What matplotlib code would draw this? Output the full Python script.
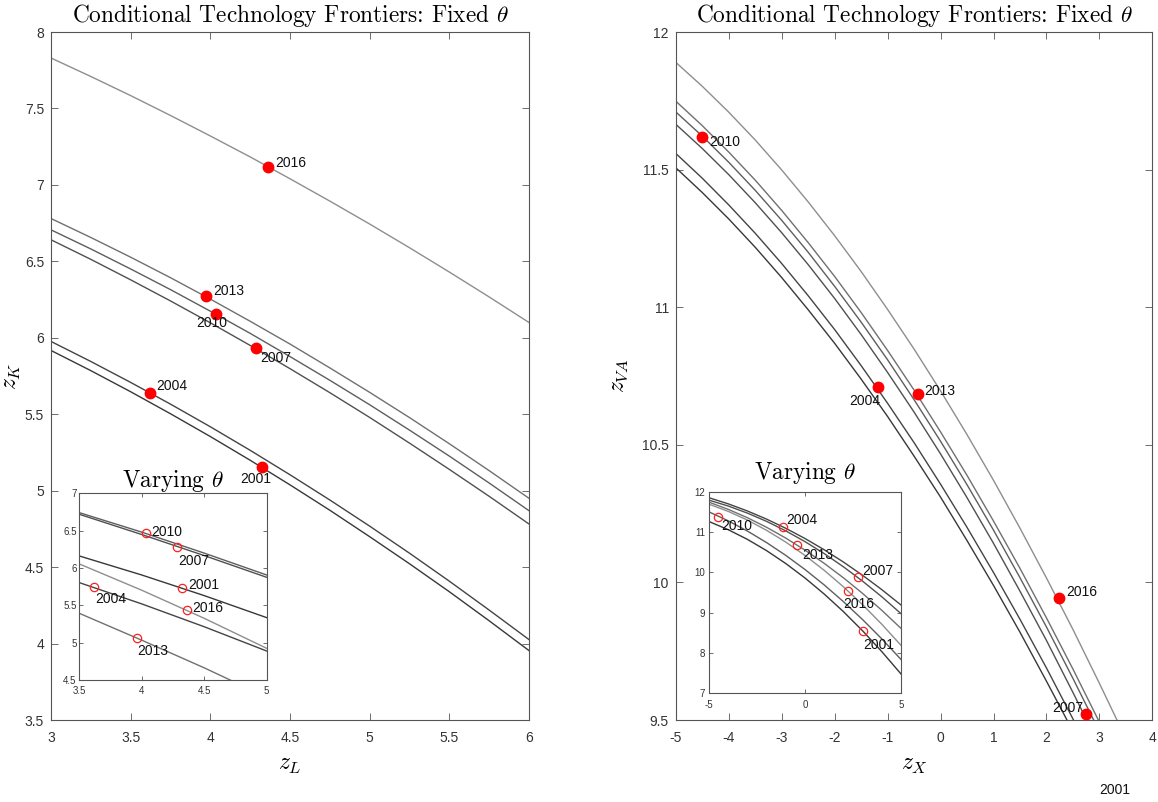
import matplotlib
matplotlib.use("Agg")
import matplotlib.pyplot as plt
from matplotlib.ticker import FixedLocator, FormatStrFormatter

plt.rcParams['font.family'] = ['Liberation Sans', 'DejaVu Sans']
plt.rcParams['mathtext.fontset'] = 'cm'

years = ["2001", "2004", "2007", "2010", "2013", "2016"]

# ---------------- Left main panel: z_K vs z_L (fixed theta) ----------------
zL_grid = [3.0, 3.25, 3.5, 3.75, 4.0, 4.25, 4.5, 4.75, 5.0, 5.25, 5.5, 5.75, 6.0]
zK_2001 = [5.917, 5.785, 5.647, 5.503, 5.354, 5.199, 5.038, 4.872, 4.699, 4.522, 4.339, 4.149, 3.954]
zK_2004 = [5.976, 5.845, 5.708, 5.566, 5.418, 5.264, 5.104, 4.939, 4.768, 4.591, 4.408, 4.219, 4.026]
zK_2007 = [6.641, 6.513, 6.379, 6.241, 6.098, 5.950, 5.798, 5.641, 5.479, 5.311, 5.139, 4.963, 4.782]
zK_2010 = [6.706, 6.581, 6.450, 6.315, 6.174, 6.029, 5.877, 5.722, 5.562, 5.396, 5.226, 5.050, 4.869]
zK_2013 = [6.780, 6.656, 6.527, 6.393, 6.253, 6.108, 5.959, 5.803, 5.643, 5.478, 5.307, 5.131, 4.950]
zK_2016 = [7.830, 7.709, 7.584, 7.454, 7.320, 7.183, 7.040, 6.894, 6.744, 6.589, 6.430, 6.267, 6.100]
zL_obs = [4.323, 3.620, 4.284, 4.033, 3.970, 4.365]
zK_obs = [5.152, 5.641, 5.930, 6.155, 6.270, 7.118]

# ---------------- Left inset: varying theta ----------------
zL_grid_in = [3.5, 4.0, 4.5, 5.0]
zKv_2001 = [6.161, 5.906, 5.630, 5.335]
zKv_2004 = [5.804, 5.519, 5.213, 4.888]
zKv_2007 = [6.719, 6.448, 6.166, 5.875]
zKv_2010 = [6.741, 6.480, 6.199, 5.906]
zKv_2013 = [5.393, 5.033, 4.663, 4.270]
zKv_2016 = [6.054, 5.702, 5.326, 4.924]
zLv_obs = [4.325, 3.620, 4.285, 4.031, 3.964, 4.359]
zKv_obs = [5.732, 5.741, 6.277, 6.464, 5.058, 5.4375]

# ---------------- Right main panel: z_VA vs z_X (fixed theta) ----------------
zX_grid = [-5, -4.5, -4, -3.5, -3, -2.5, -2, -1.5, -1, -0.5, 0, 0.5, 1, 1.5, 2, 2.5, 3, 3.5]
zVA_2001 = [11.507, 11.417, 11.321, 11.218, 11.108, 10.991, 10.869, 10.739, 10.603,
            10.459, 10.310, 10.152, 9.989, 9.819, 9.641, 9.459, 9.267, 9.072]
zVA_2004 = [11.559, 11.469, 11.372, 11.269, 11.159, 11.042, 10.919, 10.788, 10.651,
            10.508, 10.357, 10.200, 10.036, 9.866, 9.689, 9.504, 9.314, 9.117]
zVA_2007 = [11.665, 11.577, 11.482, 11.380, 11.271, 11.155, 11.032, 10.901, 10.763,
            10.619, 10.467, 10.308, 10.142, 9.968, 9.789, 9.600, 9.407, 9.204]
zVA_2010 = [11.710, 11.622, 11.527, 11.425, 11.316, 11.200, 11.076, 10.946, 10.809,
            10.664, 10.513, 10.355, 10.190, 10.017, 9.838, 9.651, 9.458, 9.258]
zVA_2013 = [11.749, 11.660, 11.564, 11.462, 11.352, 11.235, 11.112, 10.981, 10.843,
            10.699, 10.547, 10.389, 10.223, 10.051, 9.871, 9.685, 9.492, 9.293]
zVA_2016 = [11.890, 11.803, 11.709, 11.608, 11.499, 11.383, 11.260, 11.130, 10.992,
            10.848, 10.696, 10.537, 10.371, 10.197, 10.016, 9.829, 9.633, 9.432]
zX_obs = [3.00, -1.176, 2.74, -4.497, -0.42, 2.24]
zVA_obs = [9.297, 10.71, 9.52, 11.62, 10.685, 9.943]

# ---------------- Right inset: varying theta ----------------
zX_grid_in = [-5, -4, -3, -2, -1, 0, 1, 2, 3, 4, 5]
zVAv_2001 = [11.260, 11.058, 10.818, 10.538, 10.218, 9.860, 9.462, 9.026, 8.550, 8.034, 7.480]
zVAv_2004 = [11.850, 11.699, 11.522, 11.320, 11.092, 10.839, 10.560, 10.256, 9.926, 9.571, 9.190]
zVAv_2007 = [11.790, 11.645, 11.469, 11.264, 11.028, 10.762, 10.465, 10.138, 9.781, 9.394, 8.976]
zVAv_2010 = [11.500, 11.278, 11.024, 10.738, 10.420, 10.070, 9.688, 9.274, 8.828, 8.350, 7.840]
zVAv_2013 = [11.740, 11.562, 11.355, 11.117, 10.849, 10.551, 10.223, 9.865, 9.477, 9.058, 8.610]
zVAv_2016 = [11.690, 11.512, 11.297, 11.042, 10.750, 10.419, 10.050, 9.642, 9.197, 8.712, 8.190]
zXv_obs = [3.00, -1.16, 2.74, -4.51, -0.42, 2.26]
zVAv_obs = [8.55, 11.13, 9.88, 11.38, 10.68, 9.53]

# ---------------- styling ----------------
line_colors = ['#383838', '#444444', '#505050', '#5e5e5e', '#707070', '#8e8e8e']
spine_col = '#555555'
tick_col = '#333333'
PX = 0.72  # points per pixel at 100 dpi

# label centre offsets in pixels (dx right, dy up), per panel, per year
off_left = [(-6, -10.3), (21.8, 7.7), (20.3, -8.1), (-4, -8.2), (23.5, 6.2), (22.7, 4.4)]
off_left_in = [(21.5, 3.8), (16.2, -11), (16.5, -12.4), (21.5, 2.8), (15.9, -11.2), (21.6, 2.5)]
off_right = [(15.5, -13.3), (-13.2, -13.2), (-17.7, 7.1), (22.9, -4.1), (21.7, 3.5), (22.7, 7.2)]
off_right_in = [(16.4, -13.1), (18.9, 7.8), (20.3, 7.3), (18.6, -8.5), (21.3, -9.1), (10, -11.5)]

fig = plt.figure(figsize=(11.58, 8.02), dpi=100)


def style_axes(ax, xlim, ylim, xticks, yticks, labelsize, length, xpad, ypad):
    ax.set_xlim(*xlim)
    ax.set_ylim(*ylim)
    ax.xaxis.set_major_locator(FixedLocator(xticks))
    ax.yaxis.set_major_locator(FixedLocator(yticks))
    ax.xaxis.set_major_formatter(FormatStrFormatter('%g'))
    ax.yaxis.set_major_formatter(FormatStrFormatter('%g'))
    ax.tick_params(direction='in', top=True, right=True, length=length,
                   width=0.6, color=spine_col, labelcolor=tick_col,
                   labelsize=labelsize)
    ax.tick_params(axis='x', pad=xpad)
    ax.tick_params(axis='y', pad=ypad)
    for s in ax.spines.values():
        s.set_color(spine_col)
        s.set_linewidth(0.8)


def draw_panel(ax, xgrid, curves, xo, yo, offsets, filled, ms):
    for yv, c in zip(curves, line_colors):
        ax.plot(xgrid, yv, color=c, lw=1.0, zorder=2)
    for i, yr in enumerate(years):
        if filled:
            ax.plot(xo[i], yo[i], 'o', ms=ms, color='#ff0000', mec='#ff0000', zorder=3)
        else:
            ax.plot(xo[i], yo[i], 'o', ms=ms, mfc='none', mec='#ff2020', mew=0.9, zorder=3)
        dx, dy = offsets[i]
        ax.annotate(yr, xy=(xo[i], yo[i]), xytext=(dx * PX, (dy - 5.0) * PX),
                    textcoords='offset points', ha='center', va='baseline',
                    fontsize=10, color='#111111', annotation_clip=False, zorder=4)


title_txt = r'Conditional Technology Frontiers: Fixed $\theta$'
inset_title = r'Varying $\theta$'

# Left main
axL = fig.add_axes([51 / 1158, 82 / 802, 478 / 1158, 688 / 802])
draw_panel(axL, zL_grid, [zK_2001, zK_2004, zK_2007, zK_2010, zK_2013, zK_2016],
           zL_obs, zK_obs, off_left, True, 7.5)
style_axes(axL, (3, 6), (3.5, 8), [3, 3.5, 4, 4.5, 5, 5.5, 6],
           [3.5, 4, 4.5, 5, 5.5, 6, 6.5, 7, 7.5, 8], 10, 5, 8, 5)
axL.set_title(title_txt, fontfamily='cmr10', fontsize=16.8, pad=7)
axL.set_xlabel(r'$z_L$', fontsize=17)
axL.set_ylabel(r'$z_K$', fontsize=17)
axL.xaxis.set_label_coords(0.5, -0.05)
axL.yaxis.set_label_coords(-0.059, 0.5)

# Right main
axR = fig.add_axes([675.7 / 1158, 82 / 802, 476.7 / 1158, 688 / 802])
draw_panel(axR, zX_grid, [zVA_2001, zVA_2004, zVA_2007, zVA_2010, zVA_2013, zVA_2016],
           zX_obs, zVA_obs, off_right, True, 7.5)
style_axes(axR, (-5, 4), (9.5, 12), list(range(-5, 5)),
           [9.5, 10, 10.5, 11, 11.5, 12], 10, 5, 8, 5)
axR.set_title(title_txt, fontfamily='cmr10', fontsize=16.8, pad=7)
axR.set_xlabel(r'$z_X$', fontsize=17)
axR.set_ylabel(r'$z_{VA}$', fontsize=17)
axR.xaxis.set_label_coords(0.5, -0.05)
axR.yaxis.set_label_coords(-0.096, 0.5)

# Left inset
axLi = fig.add_axes([79.3 / 1158, 122 / 802, 187.4 / 1158, 186.7 / 802])
axLi.set_facecolor('white')
draw_panel(axLi, zL_grid_in, [zKv_2001, zKv_2004, zKv_2007, zKv_2010, zKv_2013, zKv_2016],
           zLv_obs, zKv_obs, off_left_in, False, 6)
style_axes(axLi, (3.5, 5), (4.5, 7), [3.5, 4, 4.5, 5],
           [4.5, 5, 5.5, 6, 6.5, 7], 7, 3, 4, 2)
axLi.set_title(inset_title, fontfamily='cmr10', fontsize=16.8, pad=4.5)

# Right inset
axRi = fig.add_axes([709 / 1158, 108.7 / 802, 192 / 1158, 201.6 / 802])
axRi.set_facecolor('white')
draw_panel(axRi, zX_grid_in, [zVAv_2001, zVAv_2004, zVAv_2007, zVAv_2010, zVAv_2013, zVAv_2016],
           zXv_obs, zVAv_obs, off_right_in, False, 6)
style_axes(axRi, (-5, 5), (7, 12), [-5, 0, 5], [7, 8, 9, 10, 11, 12], 7, 3, 5, 3)
axRi.set_title(inset_title, fontfamily='cmr10', fontsize=16.8, pad=9.5)

fig.savefig('out.png', dpi=100)
